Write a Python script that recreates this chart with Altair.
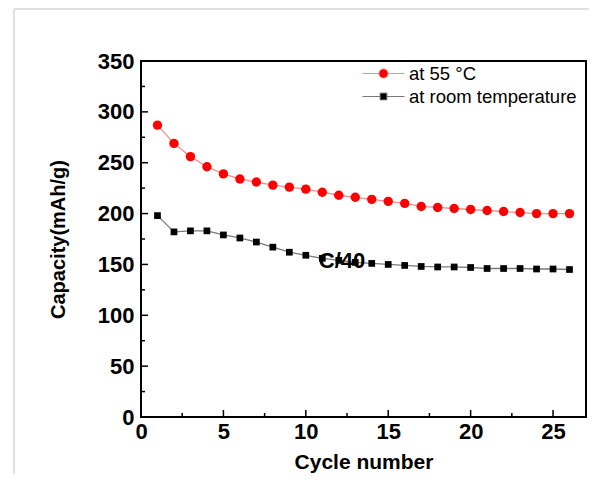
import altair as alt
import pandas as pd

# ---------------- data ----------------
cycles = list(range(1, 27))
cap_55 = [287, 269, 256, 246, 239, 234, 231, 228, 226, 224, 221, 218, 216,
          214, 212, 210, 207, 206, 205, 204, 203, 202, 201, 200, 200, 200]
cap_rt = [198, 182, 183, 183, 179, 176, 172, 167, 162, 159, 156, 154, 152,
          151, 150, 149, 148, 147.5, 147.5, 147, 146, 146, 146, 145.5, 145.5, 145]
series_names = ["at 55 °C", "at room temperature"]
x_major = [0, 5, 10, 15, 20, 25]
x_minor = [2.5, 7.5, 12.5, 17.5, 22.5]
y_major = [0, 50, 100, 150, 200, 250, 300, 350]
y_minor = [25, 75, 125, 175, 225, 275, 325]
note_x = [12.2]
note_y = [153]
note_text = ["C/40"]

# ---------------- styling ----------------
W, H = 445, 356
FONT = "Liberation Sans"
point_colors = ["#ff0000", "#000000"]
line_colors = ["#ff8a8a", "#7a7a7a"]

df = pd.concat([
    pd.DataFrame({"cycle": cycles, "cap": cap_55, "series": series_names[0]}),
    pd.DataFrame({"cycle": cycles, "cap": cap_rt, "series": series_names[1]}),
])

xs = alt.Scale(domain=[0, 27], nice=False, zero=False)
ys = alt.Scale(domain=[0, 350], nice=False, zero=False)
xaxis = alt.Axis(values=x_major, ticks=False, domain=False, grid=False,
                 labelFont=FONT, labelFontSize=22, labelFontWeight="bold",
                 labelColor="black", labelPadding=4, labelFlush=False,
                 labelOverlap=False, title="Cycle number", titleFont=FONT,
                 titleFontSize=21, titleFontWeight="bold", titleColor="black",
                 titlePadding=9)
yaxis = alt.Axis(values=y_major, ticks=False, domain=False, grid=False,
                 labelFont=FONT, labelFontSize=22, labelFontWeight="bold",
                 labelColor="black", labelPadding=7, labelFlush=False,
                 labelOverlap=False, title="Capacity(mAh/g)", titleFont=FONT,
                 titleFontSize=20, titleFontWeight="bold", titleColor="black",
                 titlePadding=29)
X = alt.X("cycle:Q", scale=xs, axis=xaxis)
Y = alt.Y("cap:Q", scale=ys, axis=yaxis)

base = alt.Chart(df)
layers = []
for name, pc, lc, shape, size in zip(series_names, point_colors, line_colors,
                                     ["circle", "square"], [88, 45]):
    sub = base.transform_filter(alt.datum.series == name)
    layers.append(sub.mark_line(color=lc, strokeWidth=1.3).encode(x=X, y=Y))
    layers.append(sub.mark_point(shape=shape, filled=True, size=size,
                                 color=pc, opacity=1).encode(x=X, y=Y))

# legend (no marks drawn; custom line+marker symbols, drawn wider than the symbol size)
circ_path = ("M-2.1,0L-0.46,0M0.46,0L2.1,0M-0.46,0A0.46,0.46,0,1,1,0.46,0"
             "A0.46,0.46,0,1,1,-0.46,0Z")
sq_path = "M-2.1,0L-0.34,0M0.34,0L2.1,0M-0.34,-0.34L0.34,-0.34L0.34,0.34L-0.34,0.34Z"
leg = alt.Legend(title=None, orient="none", legendX=232, legendY=2,
                 labelFont=FONT, labelFontSize=18.5, labelColor="black",
                 labelOffset=15, labelLimit=400, symbolSize=400, symbolStrokeWidth=1,
                 symbolOpacity=1, rowPadding=3, padding=0)
layers.append(base.transform_filter("false").mark_point(filled=True, opacity=1).encode(
    x=X, y=Y,
    fill=alt.Fill("series:N", scale=alt.Scale(domain=series_names, range=point_colors), legend=leg),
    stroke=alt.Stroke("series:N", scale=alt.Scale(domain=series_names, range=line_colors), legend=leg),
    shape=alt.Shape("series:N", scale=alt.Scale(domain=series_names, range=[circ_path, sq_path]), legend=leg),
))

# inward ticks
def xticks(vals, length):
    return alt.Chart(pd.DataFrame({"cycle": vals})).mark_rule(color="black", strokeWidth=1.5).encode(
        x=alt.X("cycle:Q", scale=xs, axis=xaxis), y=alt.value(H), y2=alt.value(H - length))

def yticks(vals, length):
    return alt.Chart(pd.DataFrame({"cap": vals})).mark_rule(color="black", strokeWidth=1.5).encode(
        y=alt.Y("cap:Q", scale=ys, axis=yaxis), x=alt.value(0), x2=alt.value(length))

layers += [xticks(x_major, 7), xticks(x_minor, 4), yticks(y_major, 7), yticks(y_minor, 4)]

# annotation
layers.append(alt.Chart(pd.DataFrame({"cycle": note_x, "cap": note_y, "t": note_text})).mark_text(
    font=FONT, fontSize=22, fontWeight="bold", color="black", baseline="middle", align="center"
).encode(x=X, y=Y, text="t:N"))

# light gray page border
one = pd.DataFrame({"k": [0]})
layers.append(alt.Chart(one).mark_rule(color="#d6d6d6", strokeWidth=1.5).encode(
    x=alt.value(-127), y=alt.value(-52), y2=alt.value(H + 80)))
layers.append(alt.Chart(one).mark_rule(color="#d6d6d6", strokeWidth=1.5).encode(
    x=alt.value(-127), x2=alt.value(W + 20), y=alt.value(-52)))

chart = alt.layer(*layers).properties(
    width=W, height=H,
    autosize=alt.AutoSizeParams(type="none"),
    padding={"left": 133, "top": 53, "right": 3, "bottom": 57},
    background="white",
).configure_view(stroke="black", strokeWidth=2)

chart.save("out.html", embed_options={"renderer": "svg", "actions": False})
